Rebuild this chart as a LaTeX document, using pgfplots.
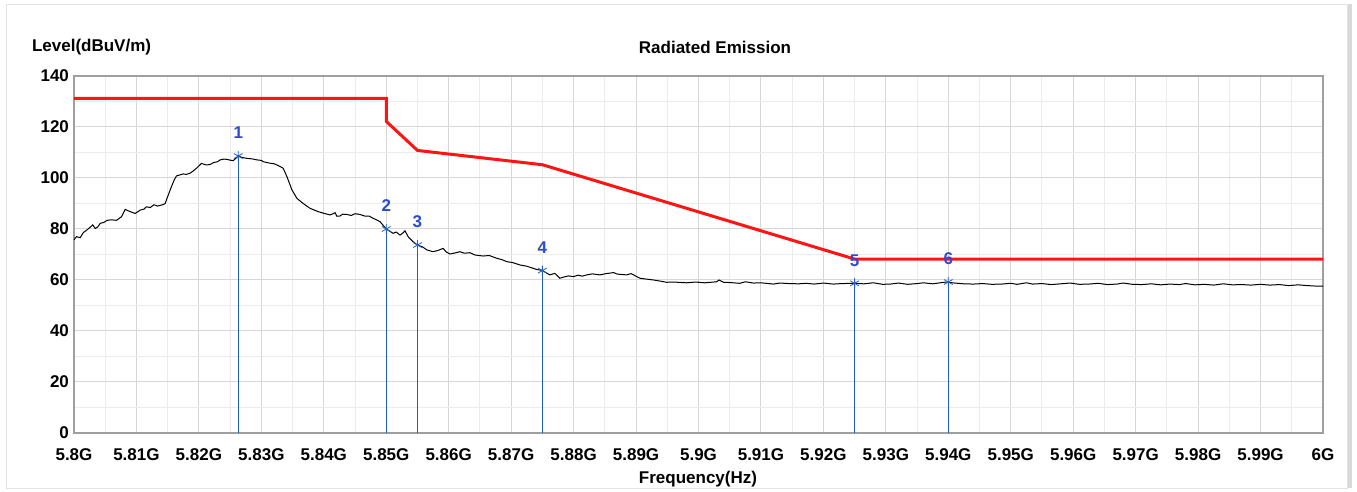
\documentclass[border=0pt]{standalone}
\usepackage{pgfplots}
\pgfplotsset{compat=1.18}
\usepackage{fontspec}
\setmainfont{Liberation Sans}
\definecolor{limitred}{RGB}{255,20,20}
\definecolor{mkblue}{RGB}{35,95,195}
\definecolor{lblblue}{RGB}{45,75,205}
\definecolor{gridmaj}{RGB}{215,215,215}
\definecolor{gridmin}{RGB}{236,236,236}
\newcommand{\chfont}{\fontsize{8.5}{10}\selectfont\bfseries}

\begin{document}
\begin{tikzpicture}[x=1pt,y=1pt]
% page and panel frame (1 px = 0.5 pt)
\useasboundingbox (0,0) rectangle (678.5,246);
\fill[white] (0,0) rectangle (678.5,246);
\fill[gray!30] (673.5,2) rectangle (676,244);
\draw[gray!22] (3,2) rectangle (673.5,244);

\node[anchor=west,font=\chfont] at (12.5,222.5) {Level(dBuV/m)};
\node[font=\chfont] at (357.5,222.5) {Radiated Emission};
\node[font=\chfont] at (349,6.5) {Frequency(Hz)};

\begin{axis}[
    at={(37pt,29.5pt)}, anchor=south west,
    scale only axis, width=624.5pt, height=178.5pt,
    xmin=5800, xmax=6000, ymin=0, ymax=140,
    xtick={5800,5810,...,6000},
    xticklabels={5.8G,5.81G,5.82G,5.83G,5.84G,5.85G,5.86G,5.87G,5.88G,5.89G,5.9G,
                 5.91G,5.92G,5.93G,5.94G,5.95G,5.96G,5.97G,5.98G,5.99G,6G},
    ytick={0,20,...,140},
    minor x tick num=1, minor y tick num=1,
    grid=both,
    major grid style={gridmaj, line width=0.5pt},
    minor grid style={gridmin, line width=0.5pt},
    major tick length=0pt, minor tick length=0pt,
    axis line style={gray!75, line width=0.6pt},
    ticklabel style={font=\chfont},
    /pgf/number format/assume math mode=true,
    xticklabel style={yshift=-4.5pt},
    yticklabel style={xshift=1pt},
    clip=false,
]

% limit line
\addplot[limitred, line width=1.5pt] coordinates {
    (5800,131.2) (5850,131.2) (5850,122.2) (5855,110.8)
    (5875,105.2) (5925,68.2) (6000,68.2)
};

% measured trace
\addplot[black, line width=0.5pt] coordinates {
(5800.0,75.8) (5800.4,77.0) (5801.0,76.6) (5801.5,78.6) (5802.0,79.5)
(5802.5,80.5) (5803.0,81.6) (5803.4,80.2) (5803.8,80.8) (5804.2,82.2)
(5804.8,82.6) (5805.3,83.4) (5806.0,83.6) (5806.8,83.4) (5807.6,84.8)
(5808.2,87.7) (5808.6,87.2) (5809.0,86.8) (5809.8,86.1) (5810.6,87.4)
(5811.2,87.8) (5811.6,88.7) (5812.2,88.4) (5812.8,89.5) (5813.4,89.0)
(5814.3,89.6) (5814.6,90.0) (5814.8,91.4) (5815.4,95.3) (5816.0,99.0)
(5816.4,100.8) (5817.5,101.6) (5818.0,101.4) (5818.6,101.9) (5819.0,102.6)
(5819.6,103.8) (5820.4,105.7) (5821.2,105.1) (5821.8,105.3) (5822.3,106.0)
(5823.0,106.4) (5823.4,107.1) (5824.0,107.4) (5824.5,107.3) (5825.0,107.0)
(5825.5,106.8) (5826.3,108.6) (5827.0,108.0) (5827.7,107.7) (5828.5,107.5)
(5829.3,107.1) (5830.0,106.9) (5830.3,106.4) (5831.0,106.0) (5831.4,105.8)
(5832.0,105.6) (5832.5,105.1) (5833.0,104.5) (5833.5,103.8) (5834.1,100.5)
(5834.9,95.3) (5835.7,92.0) (5836.7,90.0) (5837.8,88.1) (5839.1,86.8)
(5839.8,86.3) (5841.0,85.5) (5841.5,86.0) (5841.8,86.4) (5842.1,85.0)
(5842.6,85.1) (5843.0,85.8) (5843.7,85.7) (5844.4,85.3) (5845.0,86.0)
(5845.8,85.7) (5846.5,85.1) (5847.3,85.0) (5847.9,84.2) (5849.0,82.9)
(5850.0,80.0) (5851.1,78.3) (5851.6,78.8) (5852.2,77.6) (5852.7,78.5)
(5853.0,79.3) (5853.5,77.0) (5854.3,75.0) (5855.0,73.7) (5855.8,73.0)
(5856.5,71.8) (5857.5,71.1) (5858.3,71.6) (5859.1,72.4) (5859.6,71.0)
(5860.2,70.2) (5861.0,70.6) (5861.8,71.1) (5862.5,70.5) (5863.4,70.7)
(5864.2,69.8) (5865.5,69.4) (5866.5,69.6) (5867.7,68.5) (5868.5,68.0)
(5869.3,67.2) (5870.3,66.8) (5871.4,65.9) (5872.5,65.4) (5873.5,64.6)
(5874.0,64.2) (5875.0,63.7) (5876.2,62.0) (5877.0,62.6) (5877.8,60.7)
(5878.5,61.2) (5879.2,61.6) (5880.0,61.3) (5880.7,61.9) (5881.4,61.5)
(5882.1,62.0) (5883.0,62.4) (5884.2,62.0) (5885.2,62.5) (5886.4,62.9)
(5887.0,62.3) (5888.5,62.0) (5889.2,62.5) (5890.6,60.7) (5891.5,60.4)
(5892.8,60.0) (5893.8,59.6) (5894.9,59.1) (5896.0,59.2) (5898.1,58.9)
(5899.5,59.2) (5901.0,58.9) (5902.9,59.3) (5903.3,60.0) (5904.0,59.1)
(5905.0,59.0) (5906.6,58.7) (5907.5,59.3) (5908.8,58.8) (5910.0,58.9)
(5912.0,58.4) (5913.0,58.8) (5914.5,58.6) (5916.0,58.5) (5917.3,58.7)
(5918.5,58.4) (5920.0,58.8) (5921.6,58.4) (5923.0,58.6) (5925.0,58.7)
(5926.5,58.5) (5928.0,58.9) (5929.5,58.3) (5930.7,58.4) (5932.0,58.8)
(5933.5,58.3) (5935.0,58.6) (5936.0,58.9) (5937.5,58.5) (5939.0,59.0)
(5939.7,59.2) (5941.0,58.8) (5942.5,58.5) (5944.0,58.4) (5945.5,58.6)
(5947.0,58.3) (5948.5,58.4) (5950.0,58.7) (5951.0,58.3) (5952.5,58.9)
(5953.5,58.4) (5955.0,58.6) (5956.5,58.2) (5958.0,58.5) (5959.5,58.8)
(5961.0,58.3) (5962.5,58.4) (5964.0,58.7) (5965.5,58.2) (5967.0,58.4)
(5968.0,58.8) (5969.5,58.3) (5971.0,58.2) (5972.5,58.5) (5974.0,58.1)
(5975.5,58.4) (5977.0,58.2) (5978.0,58.6) (5979.5,58.1) (5981.0,58.3)
(5982.5,58.0) (5984.0,58.5) (5985.5,58.1) (5987.0,58.2) (5988.5,58.0)
(5990.0,58.3) (5991.5,58.0) (5993.0,58.2) (5994.5,57.8) (5996.0,58.1)
(5997.5,57.8) (5999.0,57.6) (6000.0,57.6)
};

% markers
\addplot[ycomb, mkblue, line width=0.7pt, mark=asterisk,
    mark size=2.5pt, mark options={line width=0.4pt},
    point meta=explicit symbolic,
    nodes near coords,
    nodes near coords style={font=\chfont, text=lblblue, anchor=south, yshift=5pt},
] coordinates {
    (5826.3,108.6) [1]
    (5850.0,80.0)  [2]
    (5855.0,73.7)  [3]
    (5875.0,63.7)  [4]
    (5925.0,58.7)  [5]
    (5940.0,59.2)  [6]
};
\end{axis}
\end{tikzpicture}
\end{document}
